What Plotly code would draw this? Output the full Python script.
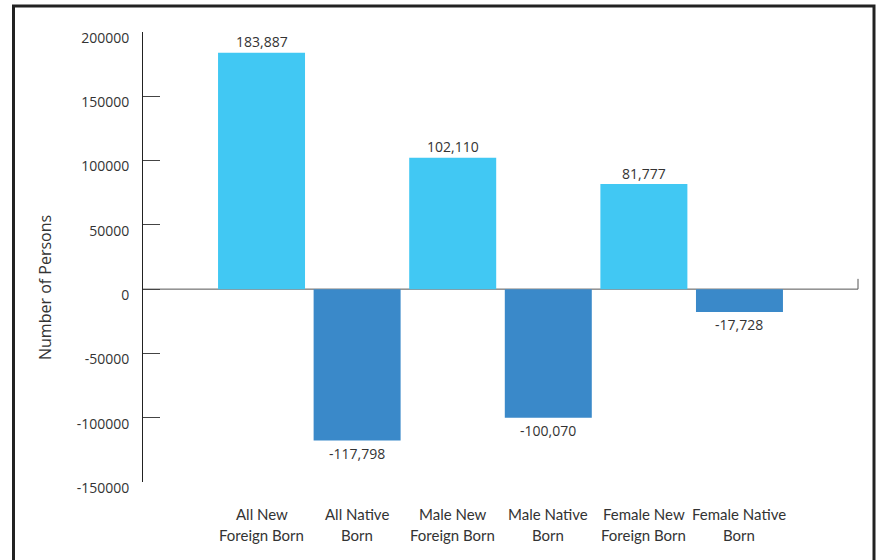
import plotly.graph_objects as go

categories = [["All New", "Foreign Born"], ["All Native", "Born"], ["Male New", "Foreign Born"],
              ["Male Native", "Born"], ["Female New", "Foreign Born"], ["Female Native", "Born"]]
values = [183887, -117798, 102110, -100070, 81777, -17728]
y_ticks = [200000, 150000, 100000, 50000, 0, -50000, -100000, -150000]

light = "#41C8F3"
dark = "#3A89C9"
colors = [light if v > 0 else dark for v in values]
labels = [f"{v:,}" for v in values]
xs = list(range(len(categories)))

TXT = "#333333"
LBL_FONT = "Open Sans"
CAT_FONT = "Lato"

fig = go.Figure()
fig.add_trace(go.Bar(
    x=xs, y=values,
    marker=dict(color=colors, line=dict(width=0)),
    width=0.91,
))

annotations = []
for x, v, t in zip(xs, values, labels):
    annotations.append(dict(
        x=x, y=v, xref="x", yref="y", text=t, showarrow=False,
        yanchor="middle", yshift=11 if v > 0 else -13,
        font=dict(family=LBL_FONT, size=14, color=TXT),
    ))
for x, (l1, l2) in zip(xs, categories):
    for line, shift in ((l1, -32), (l2, -53)):
        annotations.append(dict(
            x=x, y=0, xref="x", yref="paper", text=line, showarrow=False,
            yanchor="middle", yshift=shift,
            font=dict(family=CAT_FONT, size=15, color=TXT),
        ))
annotations.append(dict(
    x=(45 - 143) / 715, y=(482 - 288) / 450, xref="paper", yref="paper",
    text="Number of Persons", textangle=-90, showarrow=False,
    xanchor="center", yanchor="middle",
    font=dict(family=LBL_FONT, size=16, color=TXT),
))

fig.update_layout(
    width=877, height=560,
    margin=dict(l=143, r=19, t=32, b=78),
    paper_bgcolor="white", plot_bgcolor="white",
    showlegend=False,
    font=dict(family=LBL_FONT, size=14, color=TXT),
    xaxis=dict(
        range=[-1.24, 6.24], showticklabels=False,
        showline=False, showgrid=False, zeroline=False, ticks="",
    ),
    yaxis=dict(
        range=[-150000, 200000], tickmode="array", tickvals=y_ticks,
        ticktext=[str(t) for t in y_ticks],
        showline=True, linecolor="#222222", linewidth=1,
        ticks="inside", ticklen=17, tickcolor="#444444", tickwidth=1,
        showgrid=False, zeroline=False,
        ticklabelstandoff=10, ticklabelshift=6,
        tickfont=dict(family=LBL_FONT, size=14, color=TXT),
    ),
    annotations=annotations,
    shapes=[
        dict(type="line", xref="paper", yref="y", x0=0, x1=1, y0=0, y1=0,
             line=dict(color="#555555", width=1), layer="below"),
        dict(type="line", xref="paper", yref="y", x0=1, x1=1, y0=0, y1=8000,
             line=dict(color="#555555", width=1)),
        dict(type="rect", xref="paper", yref="paper",
             x0=(13.5 - 143) / 715, x1=(874 - 143) / 715,
             y0=-0.4, y1=1 + 26 / 450,
             line=dict(color="#222222", width=3), fillcolor="rgba(0,0,0,0)"),
    ],
)

fig.write_html("out.html")
